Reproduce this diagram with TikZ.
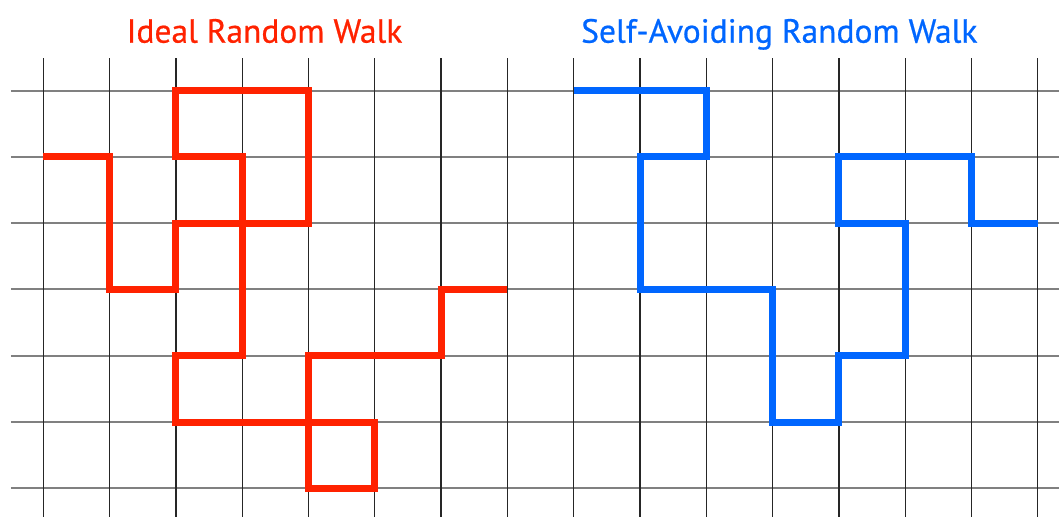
\documentclass[tikz,border=0pt]{standalone}
\usepackage{fontspec}
\setmainfont{PT Sans}
\newfontfamily\titlefont[FakeBold=0.6]{PT Sans}
\definecolor{walkred}{HTML}{FF2200}
\definecolor{walkblue}{HTML}{0066FF}
\begin{document}
\begin{tikzpicture}[x=1pt,y=1pt,
  gridv/.style={black!85, line width=1.3pt},
  gridh/.style={black!50, line width=2pt},
  walk/.style={line width=7pt, line join=miter, line cap=butt},
  title/.style={anchor=base, inner sep=0pt, font=\titlefont\fontsize{33.5}{40}\selectfont}]
\useasboundingbox (0,0) rectangle (1059,-517);
\foreach \j in {0,...,6} \draw[gridh] (10.8,{-90.5-66.3*\j}) -- (1059,{-90.5-66.3*\j});
\foreach \i in {0,...,15} \draw[gridv] ({43.3+66.3*\i},-58) -- ({43.3+66.3*\i},-517);
\begin{scope}[shift={(43.3pt,-90.5pt)}, x=66.3pt, y=-66.3pt]
\draw[walk, walkred] (0,1) -- (1,1) -- (1,3) -- (2,3) -- (2,2) -- (4,2) -- (4,0) -- (2,0) -- (2,1) -- (3,1) -- (3,4) -- (2,4) -- (2,5) -- (5,5) -- (5,6) -- (4,6) -- (4,4) -- (6,4) -- (6,3) -- (7,3);
\draw[walk, walkblue] (8,0) -- (10,0) -- (10,1) -- (9,1) -- (9,3) -- (11,3) -- (11,5) -- (12,5) -- (12,4) -- (13,4) -- (13,2) -- (12,2) -- (12,1) -- (14,1) -- (14,2) -- (15,2);
\end{scope}
\node[title, text=walkred] (ideal) at (264.5,-42.7) {Ideal Random Walk};
\node[title, text=walkblue] (saw) at (779.3,-42.7) {Self-Avoiding Random Walk};
\end{tikzpicture}
\end{document}
